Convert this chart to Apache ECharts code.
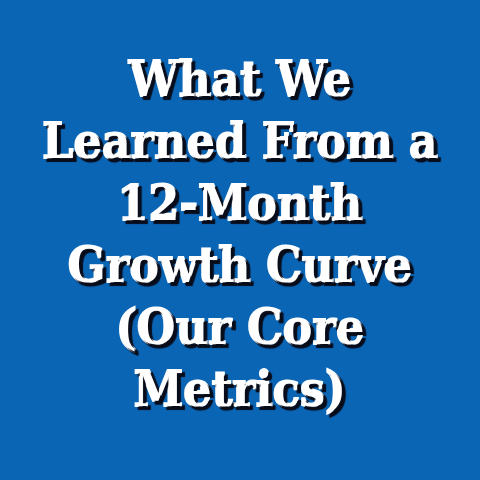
<!DOCTYPE html>
<html>
<head>
<meta charset="utf-8">
<script src="https://cdn.jsdelivr.net/npm/echarts@6/dist/echarts.min.js"></script>
<style>
html,body{margin:0;padding:0;background:#0b65b5;}
#chart{width:480px;height:480px;}
</style>
</head>
<body>
<div id="chart"></div>
<script>
const titleLines = ["What We", "Learned From a", "12-Month", "Growth Curve", "(Our Core", "Metrics)"];
const lineCenters = [84, 146, 208, 270, 332, 394];

const chart = echarts.init(document.getElementById('chart'), null, {renderer: 'canvas'});
chart.setOption({
  backgroundColor: '#0b65b5',
  graphic: titleLines.map((t, i) => ({
    type: 'text',
    x: 240,
    y: lineCenters[i],
    scaleX: 0.93,
    style: {
      text: t,
      fill: '#ffffff',
      stroke: '#ffffff',
      lineWidth: 2,
      font: 'bold 48px "DejaVu Serif"',
      align: 'center',
      verticalAlign: 'middle',
      textShadowColor: 'rgba(8,12,25,1)',
      textShadowOffsetX: 3,
      textShadowOffsetY: 3,
      textShadowBlur: 1
    }
  }))
});
</script>
</body>
</html>
